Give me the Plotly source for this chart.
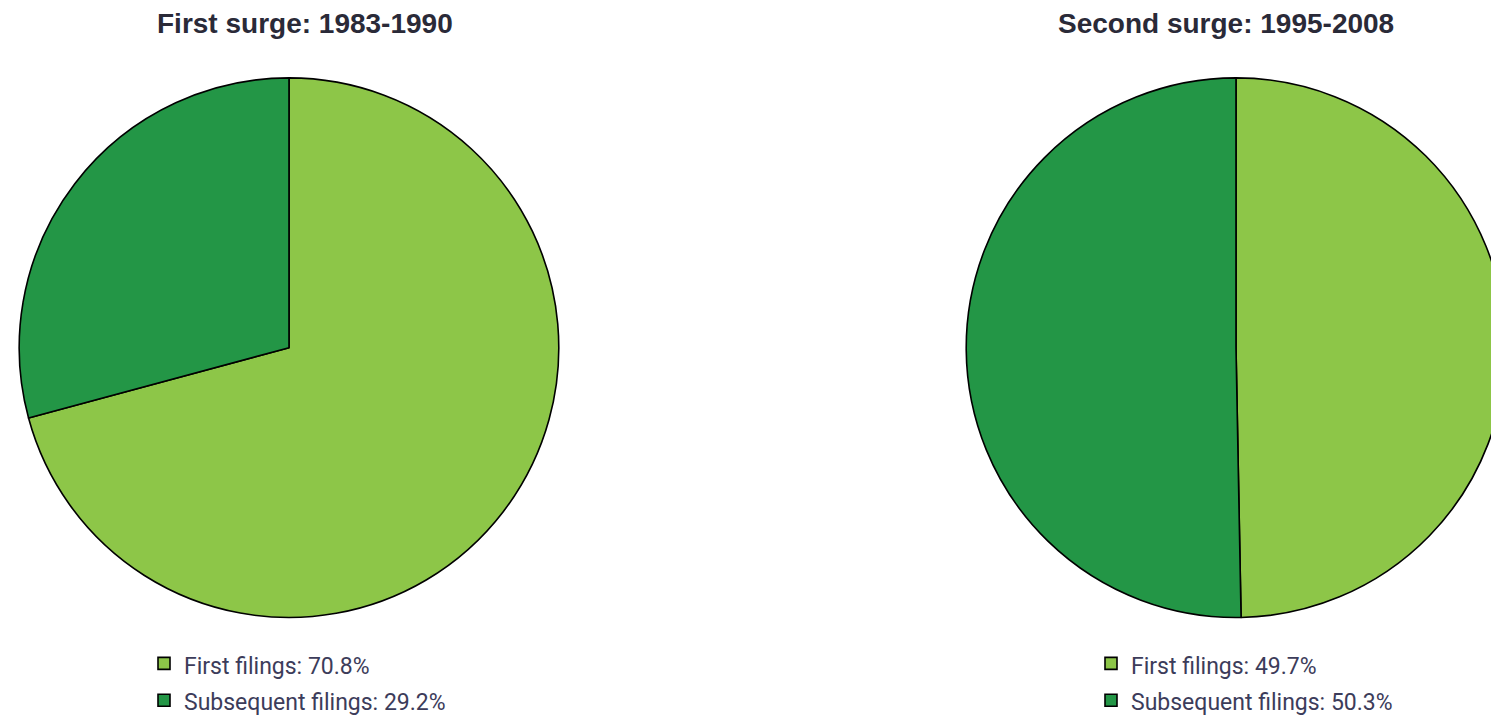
import plotly.graph_objects as go

# ---- data ----
categories = ["First filings", "Subsequent filings"]
surge_titles = ["First surge: 1983-1990", "Second surge: 1995-2008"]
first_surge_values = [70.8, 29.2]
second_surge_values = [49.7, 50.3]

LIGHT = "#8DC648"
DARK = "#239646"
OFF = 8            # default page body margin
W, H = 1503, 716   # figure size (page area beyond the window is simply not shown)

def px_x(v):
    return (v - OFF) / W

def px_y(v):
    return 1 - (v - OFF) / H

fig = go.Figure()

pie_domains = [
    dict(x=[px_x(15), px_x(563)], y=[px_y(627), px_y(79)]),
    dict(x=[px_x(962), px_x(1510)], y=[px_y(627), px_y(79)]),
]
legend_names = ["legend", "legend2"]
for values, dom, lg in zip([first_surge_values, second_surge_values], pie_domains, legend_names):
    labels = [f'<span style="font-size:23px">{c}: {v:.1f}%</span>' for c, v in zip(categories, values)]
    fig.add_trace(go.Pie(
        labels=labels,
        values=values,
        sort=False,
        direction="clockwise",
        rotation=0,
        textinfo="none",
        hoverinfo="label",
        marker=dict(colors=[LIGHT, DARK], line=dict(color="#000000", width=1.6)),
        domain=dom,
        legend=lg,
        showlegend=True,
    ))

legend_font = dict(family="Roboto, Liberation Sans Narrow, sans-serif", size=26, color="#3c3c5a")
title_font = dict(family="Liberation Sans, Arial, Helvetica, sans-serif", size=28, color="#2a2a38")

for t, cx in zip(surge_titles, [305, 1226]):
    fig.add_annotation(text=f"<b>{t}</b>", x=px_x(cx), y=px_y(24), xref="paper", yref="paper",
                       xanchor="center", yanchor="middle", showarrow=False, font=title_font)

fig.update_layout(
    width=W, height=H,
    margin=dict(l=0, r=0, t=0, b=0),
    paper_bgcolor="white",
    plot_bgcolor="white",
    legend=dict(x=px_x(144), y=px_y(650), xanchor="left", yanchor="top",
                font=legend_font, bgcolor="rgba(0,0,0,0)", tracegroupgap=0),
    legend2=dict(x=px_x(1091), y=px_y(650), xanchor="left", yanchor="top",
                 font=legend_font, bgcolor="rgba(0,0,0,0)", tracegroupgap=0),
)

fig.write_html("out.html")
